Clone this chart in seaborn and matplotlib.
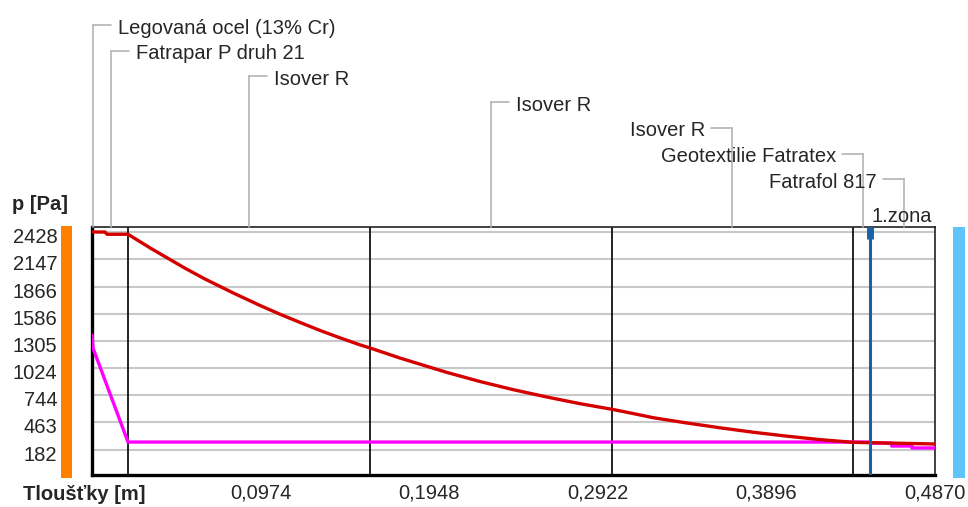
import matplotlib
matplotlib.use("Agg")
import matplotlib.pyplot as plt
import seaborn as sns
import pandas as pd
from matplotlib.transforms import ScaledTranslation
from matplotlib.lines import Line2D
from matplotlib.patches import Rectangle

# ---------------- data ----------------
x_red = [0.0, 0.0075, 0.0087, 0.0208, 0.0267, 0.0345, 0.0460, 0.0537, 0.0653, 0.0815,
         0.0971, 0.1086, 0.1202, 0.1317, 0.1433, 0.1548, 0.1606, 0.1779, 0.2049, 0.2241,
         0.2432, 0.2627, 0.2819, 0.3004, 0.3080, 0.3243, 0.3435, 0.3628, 0.3821, 0.4013,
         0.4206, 0.4396, 0.4870]
p_red = [2428, 2428, 2405, 2405, 2340, 2254, 2135, 2055, 1943, 1800,
         1670, 1580, 1495, 1413, 1336, 1264, 1232, 1128, 980, 886,
         802, 726, 657, 599, 572, 512, 458, 408, 362, 322,
         286, 258, 241]

x_mag = [0.0, 0.0006, 0.0208, 0.4494, 0.4494, 0.4620, 0.4620, 0.4737, 0.4737, 0.4870]
p_mag = [1365, 1230, 261, 261, 250, 250, 220, 220, 200, 200]

y_ticks = [2428, 2147, 1866, 1586, 1305, 1024, 744, 463, 182]
y_tick_labels = ["2428", "2147", "1866", "1586", "1305", "1024", "744", "463", "182"]

x_ticks = [0.0487, 0.0974, 0.1461, 0.1948, 0.2435, 0.2922, 0.3409, 0.3896, 0.4383, 0.4870]
x_tick_labels = ["", "0,0974", "", "0,1948", "", "0,2922", "", "0,3896", "", "0,4870"]

layer_names = ["Legovaná ocel (13% Cr)", "Fatrapar P druh 21", "Isover R", "Isover R",
               "Isover R", "Geotextilie Fatratex", "Fatrafol 817"]
layer_bounds = [0.0, 0.001, 0.0208, 0.1606, 0.3004, 0.4396, 0.4512, 0.4870]
drawn_bounds = [0.0208, 0.1606, 0.3004, 0.4396]
zone_x = 0.4494
zone_label = "1.zona"

# ---------------- figure ----------------
sns.set_theme(style="white")
plt.rcParams['font.family'] = ['Liberation Sans', 'DejaVu Sans']
FS = 14.5

W, H = 968, 507
fig = plt.figure(figsize=(W / 100, H / 100), dpi=100)
ax = fig.add_axes([92 / W, 1 - 475 / H, (935 - 92) / W, (475 - 227) / H])

for v in y_ticks:
    ax.axhline(v, color='#c8c8c8', lw=1.5, zorder=1)
for b in drawn_bounds:
    ax.axvline(b, color='black', lw=1.2, zorder=2)

df_mag = pd.DataFrame({'x': x_mag, 'p': p_mag})
df_red = pd.DataFrame({'x': x_red, 'p': p_red})
sns.lineplot(data=df_mag, x='x', y='p', ax=ax, color='#ff00ff', lw=2.4,
             estimator=None, sort=False, zorder=3)
sns.lineplot(data=df_red, x='x', y='p', ax=ax, color='#d40000', lw=2.4,
             estimator=None, sort=False, zorder=4)

ax.axvline(zone_x, color='#1a62a6', lw=2.2, zorder=5)
ax.axvline(zone_x, ymin=0.95, ymax=1.0, color='#1a62a6', lw=5, zorder=5,
           solid_capstyle='butt')

ax.set_xlim(0, 0.487)
ax.set_ylim(-79, 2480)
ax.set_xlabel("")
ax.set_ylabel("")

ax.set_yticks(y_ticks)
ax.set_yticklabels(y_tick_labels, fontsize=FS)
ax.tick_params(axis='y', length=0, pad=25)
off = ScaledTranslation(0, -0.035, fig.dpi_scale_trans)
for lab in ax.get_yticklabels():
    lab.set_transform(lab.get_transform() + off)

ax.set_xticks(x_ticks)
ax.set_xticklabels(x_tick_labels, fontsize=FS)
ax.tick_params(axis='x', direction='in', length=6, width=1.2, color='#b0b0b0', pad=6)

for s in ['left', 'bottom']:
    ax.spines[s].set_linewidth(2.4)
    ax.spines[s].set_color('black')
for s in ['top', 'right']:
    ax.spines[s].set_linewidth(1.2)
    ax.spines[s].set_color('#222222')
    ax.spines[s].set_visible(True)

fig.canvas.draw()


def px_of(x):
    return ax.transData.transform((x, 0))[0]


def fx(px):
    return px / W


def fy(py):
    return 1 - py / H


grey = '#b4b4b4'
for i, name in enumerate(layer_names):
    xc = px_of((layer_bounds[i] + layer_bounds[i + 1]) / 2)
    ly = 25 + 25.7 * i
    fig.add_artist(Line2D([fx(xc), fx(xc)], [fy(ly), fy(227)], color=grey, lw=1.2))
    if i < 4:
        fig.add_artist(Line2D([fx(xc), fx(xc + 18)], [fy(ly), fy(ly)], color=grey, lw=1.2))
        fig.text(fx(xc + 25), fy(ly + 8.5), name, ha='left', va='baseline', fontsize=FS)
    else:
        fig.add_artist(Line2D([fx(xc - 21), fx(xc)], [fy(ly), fy(ly)], color=grey, lw=1.2))
        fig.text(fx(xc - 27), fy(ly + 8.5), name, ha='right', va='baseline', fontsize=FS)

fig.text(fx(px_of(zone_x) + 2), fy(221.5), zone_label, ha='left', va='baseline', fontsize=FS)

fig.text(fx(12), fy(210), "p [Pa]", ha='left', va='baseline', fontsize=FS, fontweight='bold')
fig.text(fx(23), fy(500), "Tloušťky [m]", ha='left', va='baseline', fontsize=FS, fontweight='bold')

fig.add_artist(Rectangle((fx(61), fy(478)), 11 / W, (478 - 226) / H,
                         transform=fig.transFigure, color='#ff8000', lw=0))
fig.add_artist(Rectangle((fx(953), fy(478)), 12 / W, (478 - 227) / H,
                         transform=fig.transFigure, color='#5ec4fa', lw=0))

fig.savefig("out.png", dpi=100)
